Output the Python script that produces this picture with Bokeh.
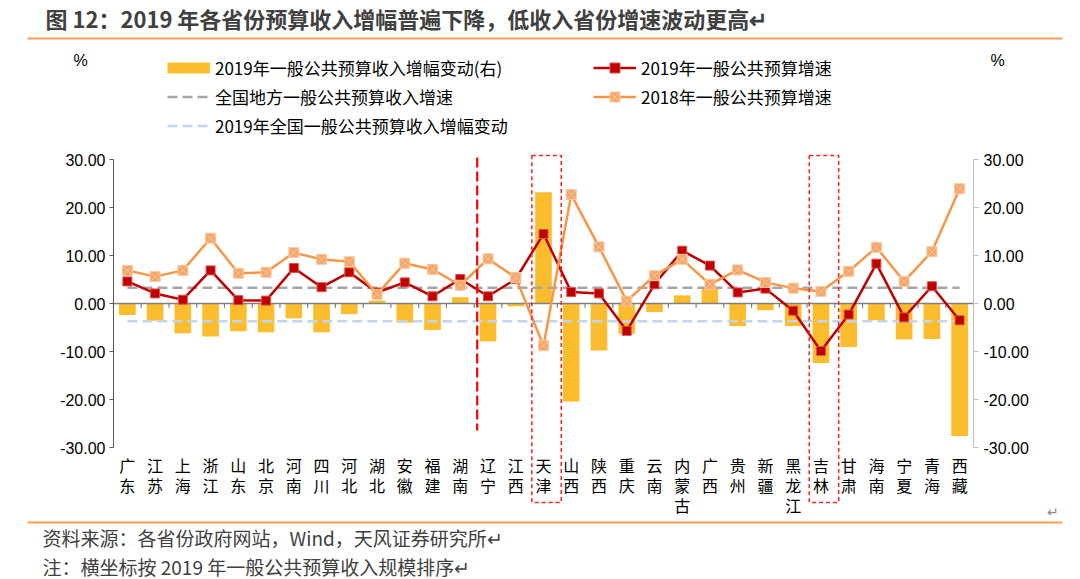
from bokeh.plotting import figure
from bokeh.models import (Range1d, FactorRange, LinearAxis, FixedTicker, NumeralTickFormatter,
                          Legend, LegendItem, ColumnDataSource)
from bokeh.transform import dodge
from bokeh.core.properties import value
from bokeh.embed import file_html
from bokeh.resources import INLINE

# ---------------- data ----------------
provinces = ["广东", "江苏", "上海", "浙江", "山东", "北京", "河南", "四川", "河北", "湖北",
             "安徽", "福建", "湖南", "辽宁", "江西", "天津", "山西", "陕西", "重庆", "云南",
             "内蒙古", "广西", "贵州", "新疆", "黑龙江", "吉林", "甘肃", "海南", "宁夏", "青海", "西藏"]
# 2019年一般公共预算收入增幅变动(右)
change_2019 = [-2.4, -3.6, -6.2, -6.9, -5.8, -6.0, -3.1, -6.0, -2.2, 0.6,
               -4.0, -5.5, 1.3, -7.9, -0.6, 23.2, -20.4, -9.8, -6.3, -1.8,
               1.7, 3.5, -4.7, -1.4, -4.7, -12.4, -9.1, -3.5, -7.5, -7.4, -27.6]
# 2019年一般公共预算增速
growth_2019 = [4.6, 2.1, 0.8, 6.9, 0.7, 0.6, 7.4, 3.4, 6.5, 2.3,
               4.4, 1.5, 5.1, 1.5, 5.1, 14.5, 2.4, 2.1, -5.7, 4.0,
               11.0, 7.9, 2.3, 3.1, -1.5, -9.9, -2.3, 8.3, -2.9, 3.6, -3.5]
# 2018年一般公共预算增速
growth_2018 = [6.9, 5.6, 6.9, 13.6, 6.3, 6.5, 10.6, 9.2, 8.7, 1.9,
               8.4, 7.1, 3.8, 9.3, 5.4, -8.8, 22.7, 11.8, 0.5, 5.8,
               9.2, 4.0, 7.0, 4.4, 3.2, 2.5, 6.7, 11.7, 4.6, 10.8, 23.9]
national_local_growth = 3.3      # 全国地方一般公共预算收入增速
national_change_2019 = -3.7      # 2019年全国一般公共预算收入增幅变动
y_ticks = [-30, -20, -10, 0, 10, 20, 30]
highlighted = ["天津", "吉林"]
divider_at = ["辽宁"]

title_text = "图 12：2019 年各省份预算收入增幅普遍下降，低收入省份增速波动更高↵"
source_text = "资料来源：各省份政府网站，Wind，天风证券研究所↵"
note_text = "注：横坐标按 2019 年一般公共预算收入规模排序↵"
legend_left = ["2019年一般公共预算收入增幅变动(右)", "全国地方一般公共预算收入增速",
               "2019年全国一般公共预算收入增幅变动"]
legend_right = ["2019年一般公共预算增速", "2018年一般公共预算增速"]

# ---------------- geometry / styles ----------------
W, H = 1080, 579
FRAME_L = 6                      # frame starts 6px from canvas left
AX_L, AX_R = 113, 973            # pixel positions of the two value axes
ZERO_PX = 303                    # pixel row of value 0
PX_PER_UNIT = 4.8
n = len(provinces)
U = (AX_R - AX_L) / n            # pixels per category
PAD = ((W - FRAME_L) / U - n) / 2


def X(px):
    return (px - AX_L) / U


def Y(py):
    return (ZERO_PX - py) / PX_PER_UNIT


CJK = "Noto Sans CJK SC"
NUM = "Liberation Sans"
BAR = "#FBBD2E"
RED = "#C00000"
ORANGE = "#F79646"
GRAY = "#A6A6A6"
BLUE = "#C2D5EC"
RULE = "#F5A05A"

src = ColumnDataSource(dict(
    province=provinces,
    label=["\n".join(p) for p in provinces],
    change=change_2019,
    g19=growth_2019,
    g18=growth_2018,
    nat=[national_local_growth] * n,
    natchg=[national_change_2019] * n,
))

y0, y1 = Y(H), Y(0)
p = figure(width=W, height=H,
           x_range=FactorRange(*provinces, range_padding=PAD, range_padding_units="absolute"),
           y_range=Range1d(y0, y1), output_backend="svg", toolbar_location=None,
           min_border_left=FRAME_L, min_border_right=0, min_border_top=0, min_border_bottom=0,
           x_axis_location=None, y_axis_location=None)
p.outline_line_color = None
p.grid.visible = False
p.extra_y_ranges = {"right": Range1d(y0, y1)}

axis_kw = dict(ticker=FixedTicker(ticks=y_ticks), formatter=NumeralTickFormatter(format="0.00"),
               bounds=(-30, 30), major_tick_in=0, minor_tick_line_color=None,
               major_label_text_font=NUM, major_label_text_font_size="16px",
               major_label_text_color="#000000")
left = LinearAxis(fixed_location=0, axis_line_color="#595959", major_tick_line_color="#595959",
                  major_tick_out=4, major_label_standoff=4, **axis_kw)
p.add_layout(left, "left")
right = LinearAxis(fixed_location=n, y_range_name="right", axis_line_color="#BFBFBF",
                   major_tick_line_color="#BFBFBF", major_tick_out=5, major_label_standoff=5,
                   **axis_kw)
p.add_layout(right, "right")

bars = p.vbar(x="province", top="change", bottom=0, width=0.6, y_range_name="right",
              fill_color=BAR, line_color=None, source=src)

# zero axis line with category-boundary ticks
p.segment(x0=[0], y0=[0], x1=[n], y1=[0], line_color="#7F7F7F", line_width=1.5)
p.segment(x0=dodge("province", -0.5, range=p.x_range), y0=0,
          x1=dodge("province", -0.5, range=p.x_range), y1=-0.9,
          line_color="#7F7F7F", line_width=1.2, source=src)

gray = p.line("province", "nat", source=src, line_color=GRAY, line_width=2.5, line_dash="10 5")
blue = p.line("province", "natchg", source=src, line_color=BLUE, line_width=2.5, line_dash="10 5")
red_line = p.line("province", "g19", source=src, line_color=RED, line_width=2.5)
red_pts = p.scatter("province", "g19", source=src, marker="square", size=9,
                    fill_color=RED, line_color="#D9534F", line_width=1)
or_line = p.line("province", "g18", source=src, line_color=ORANGE, line_width=2.5)
or_pts = p.scatter("province", "g18", source=src, marker="square_x", size=10,
                   fill_color="#F5A565", line_color="#F8C9A3", line_width=1)

# category labels (vertical characters)
p.text(x="province", y=Y(452.5), text="label", source=src, text_align="center",
       text_baseline="top", text_font=value(CJK), text_font_size="16px",
       text_color="#000000", text_line_height=0.84)

# red highlight marks
div_src = ColumnDataSource(dict(cat=divider_at))
p.segment(x0=dodge("cat", -0.39, range=p.x_range), y0=Y(157),
          x1=dodge("cat", -0.39, range=p.x_range), y1=Y(430),
          line_color="#FF0000", line_width=2.2, line_dash="10 4", source=div_src)
box_src = ColumnDataSource(dict(cat=highlighted))
p.quad(left=dodge("cat", -0.42, range=p.x_range), right=dodge("cat", 0.64, range=p.x_range),
       top=Y(155), bottom=Y(502), fill_color=None, line_color="#FF2020", line_width=1.5,
       line_dash="4 3", source=box_src)

# legend (bar swatch drawn by an off-screen proxy so it is a flat band)
proxy_bar = p.line(x=[-20, -19], y=[-200, -200], line_color=BAR, line_width=11)
leg_kw = dict(padding=0, spacing=4, label_standoff=5, glyph_width=43, glyph_height=25,
              label_height=25, border_line_alpha=0, background_fill_alpha=0, margin=0,
              label_text_font=CJK, label_text_font_size="17px", label_text_color="#000000")
lg1 = Legend(items=[LegendItem(label=legend_left[0], renderers=[proxy_bar]),
                    LegendItem(label=legend_left[1], renderers=[gray]),
                    LegendItem(label=legend_left[2], renderers=[blue])],
             location=(167 - FRAME_L, H - 137.5), **leg_kw)
lg2 = Legend(items=[LegendItem(label=legend_right[0], renderers=[red_line, red_pts]),
                    LegendItem(label=legend_right[1], renderers=[or_line, or_pts])],
             location=(593 - FRAME_L, H - 108.5), **leg_kw)
p.add_layout(lg1)
p.add_layout(lg2)

# "%" unit labels
p.text(x=[X(80), X(997)], y=[Y(60), Y(60)], text=["%", "%"], text_font=value(NUM),
       text_font_size="16px", text_color="#000000", text_align="center", text_baseline="middle")

# page title, rules and notes
p.text(x=[X(45)], y=[Y(17)], text=[title_text], text_font=value(CJK), text_font_style="bold",
       text_font_size="22px", text_color="#404040", text_baseline="middle", text_align="left")
p.segment(x0=[X(27), X(27)], y0=[Y(38), Y(522)], x1=[X(1062), X(1062)], y1=[Y(38), Y(522)],
          line_color=RULE, line_width=2)
p.text(x=[X(42), X(42)], y=[Y(537), Y(566)], text=[source_text, note_text], text_font=value(CJK),
       text_font_size="19px", text_color="#404040", text_baseline="middle", text_align="left")
p.text(x=[X(1052)], y=[Y(510)], text=["↵"], text_font=value(CJK), text_font_size="14px",
       text_color="#8C8C8C", text_baseline="middle", text_align="center")

open("out.html", "w").write(file_html(p, INLINE))
